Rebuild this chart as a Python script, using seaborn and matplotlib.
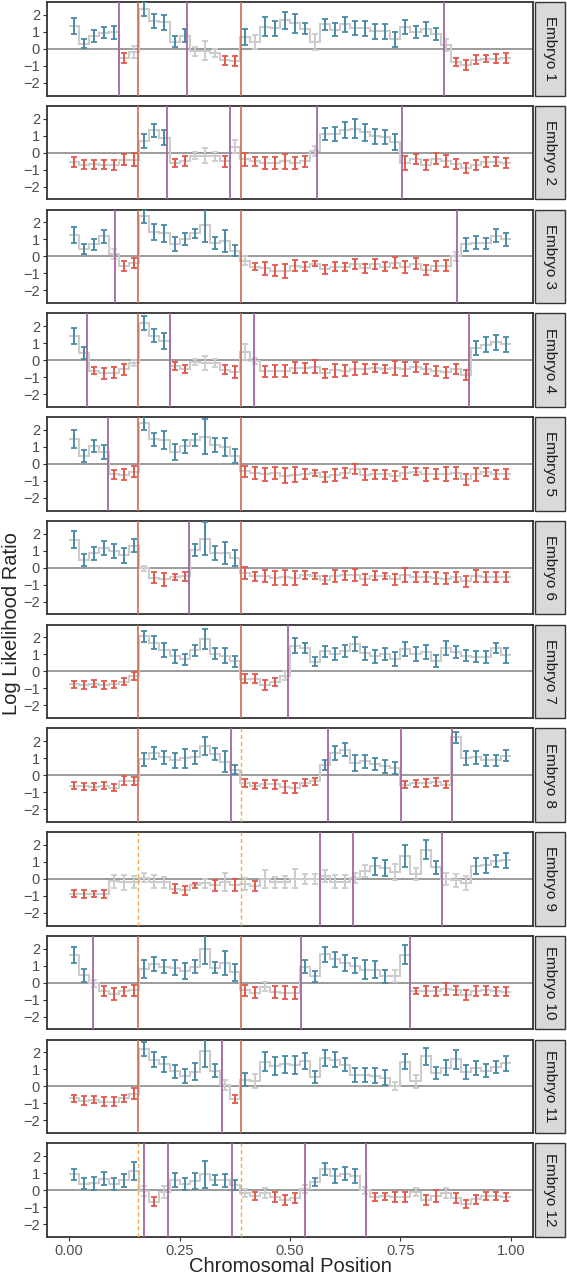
import numpy as np
import matplotlib
matplotlib.use("Agg")
import matplotlib.pyplot as plt
import seaborn as sns
from matplotlib.patches import Rectangle

# --- data: log likelihood ratio per bin (44 bins along the chromosome) ---
n_bins = 44

llr_1 = [1.35, 0.31, 0.76, 0.96, 0.98, -0.55, -0.2, 2.35, 1.65, 1.55,
         0.43, 0.78, -0.15, -0.1, -0.25, -0.68, -0.7, 0.68, 0.4, 1.3,
         1.2, 1.67, 1.5, 1.18, 0.4, 1.43, 1.12, 1.43, 1.23, 1.2,
         1.02, 1.02, 0.55, 1.3, 1.0, 1.17, 0.88, 0.2, -0.75, -0.95,
         -0.63, -0.57, -0.58, -0.53]
err_1 = [0.47, 0.27, 0.35, 0.35, 0.38, 0.3, 0.35, 0.4, 0.4, 0.45,
         0.35, 0.38, 0.25, 0.55, 0.25, 0.28, 0.28, 0.48, 0.4, 0.55,
         0.45, 0.5, 0.55, 0.33, 0.45, 0.35, 0.38, 0.43, 0.43, 0.43,
         0.42, 0.42, 0.43, 0.4, 0.37, 0.43, 0.35, 0.35, 0.23, 0.27,
         0.25, 0.22, 0.25, 0.3]
call_1 = "BBBBBRGBBB BBGGGRRBGB BBBBGBBBBB BBBBBBBGRR RRRR"

llr_2 = [-0.57, -0.7, -0.69, -0.7, -0.73, -0.42, -0.42, 0.7, 1.3, 0.88,
         -0.6, -0.5, -0.18, -0.18, -0.22, -0.5, 0.35, -0.4, -0.5, -0.62,
         -0.62, -0.52, -0.62, -0.52, 0.1, 1.1, 1.1, 1.3, 1.4, 1.2,
         0.95, 0.92, 0.65, -0.6, -0.37, -0.72, -0.35, -0.47, -0.67, -0.9,
         -0.72, -0.57, -0.53, -0.6]
err_2 = [0.3, 0.27, 0.27, 0.28, 0.27, 0.33, 0.38, 0.4, 0.4, 0.45,
         0.25, 0.3, 0.2, 0.45, 0.25, 0.32, 0.4, 0.36, 0.27, 0.35,
         0.35, 0.43, 0.35, 0.35, 0.3, 0.35, 0.43, 0.47, 0.55, 0.5,
         0.42, 0.43, 0.47, 0.4, 0.3, 0.3, 0.32, 0.35, 0.3, 0.3,
         0.3, 0.3, 0.27, 0.28]
call_2 = "RRRRRRRBBB RRGGGRGRRR RRRRGBBBBB BBBRRRRRRR RRRR"

llr_3 = [1.25, 0.44, 0.7, 1.17, 0.15, -0.56, -0.37, 2.35, 1.44, 1.37,
         0.73, 1.02, 1.35, 1.83, 0.8, 0.88, 0.33, -0.25, -0.6, -0.71,
         -0.83, -0.85, -0.54, -0.6, -0.42, -0.77, -0.6, -0.63, -0.46, -0.7,
         -0.46, -0.6, -0.37, -0.65, -0.44, -0.8, -0.56, -0.56, 0.0, 0.71,
         0.8, 0.77, 1.2, 1.0]
err_3 = [0.48, 0.3, 0.33, 0.4, 0.3, 0.3, 0.3, 0.38, 0.48, 0.5,
         0.43, 0.37, 0.28, 1.0, 0.35, 0.65, 0.33, 0.25, 0.22, 0.4,
         0.3, 0.42, 0.33, 0.27, 0.12, 0.25, 0.26, 0.25, 0.3, 0.26,
         0.3, 0.28, 0.32, 0.35, 0.32, 0.27, 0.3, 0.32, 0.25, 0.38,
         0.38, 0.33, 0.38, 0.38]
call_3 = "BBBBGRRBBB BBBBBBBGRR RRRRRRRRRR RRRRRRRRGB BBBB"

llr_4 = [1.42, 0.4, -0.63, -0.77, -0.73, -0.54, -0.15, 2.17, 1.44, 1.1,
         -0.35, -0.52, -0.13, -0.17, -0.15, -0.56, -0.71, 0.46, -0.05, -0.65,
         -0.62, -0.62, -0.44, -0.46, -0.4, -0.77, -0.6, -0.63, -0.5, -0.52,
         -0.44, -0.54, -0.48, -0.52, -0.4, -0.52, -0.62, -0.71, -0.52, -0.88,
         0.71, 0.9, 1.04, 0.92]
err_4 = [0.48, 0.36, 0.2, 0.33, 0.33, 0.33, 0.18, 0.4, 0.4, 0.47,
         0.24, 0.26, 0.18, 0.4, 0.24, 0.28, 0.36, 0.48, 0.2, 0.32,
         0.36, 0.36, 0.33, 0.32, 0.38, 0.27, 0.38, 0.33, 0.38, 0.32,
         0.24, 0.24, 0.4, 0.4, 0.28, 0.27, 0.3, 0.32, 0.32, 0.28,
         0.43, 0.43, 0.42, 0.42]
call_4 = "BBRRRRGBBB RRGGGRRGGR RRRRRRRRRR RRRRRRRRRR BBBB"

llr_5 = [1.46, 0.46, 1.06, 0.69, -0.62, -0.65, -0.46, 2.4, 1.44, 1.4,
         0.69, 1.02, 1.4, 1.6, 1.1, 1.0, 0.46, -0.44, -0.54, -0.62,
         -0.54, -0.69, -0.63, -0.58, -0.54, -0.77, -0.67, -0.56, -0.31, -0.65,
         -0.62, -0.62, -0.69, -0.54, -0.46, -0.6, -0.6, -0.62, -0.54, -0.9,
         -0.6, -0.48, -0.62, -0.58]
err_5 = [0.5, 0.35, 0.37, 0.41, 0.27, 0.32, 0.32, 0.43, 0.4, 0.5,
         0.48, 0.37, 0.37, 1.03, 0.43, 0.52, 0.43, 0.33, 0.33, 0.36,
         0.33, 0.42, 0.43, 0.3, 0.2, 0.27, 0.36, 0.29, 0.29, 0.32,
         0.27, 0.27, 0.29, 0.33, 0.22, 0.38, 0.29, 0.41, 0.33, 0.32,
         0.38, 0.22, 0.27, 0.3]
call_5 = "BBBBRRRBBB BBBBBBBRRR RRRRRRRRRR RRRRRRRRRR RRRR"

llr_6 = [1.65, 0.44, 0.83, 1.15, 0.96, 0.73, 1.29, -0.05, -0.58, -0.69,
         -0.56, -0.52, 1.02, 1.69, 0.87, 0.87, 0.56, -0.31, -0.52, -0.5,
         -0.6, -0.56, -0.62, -0.44, -0.48, -0.75, -0.5, -0.46, -0.44, -0.69,
         -0.48, -0.5, -0.69, -0.44, -0.54, -0.54, -0.6, -0.65, -0.54, -0.81,
         -0.5, -0.54, -0.54, -0.54]
err_6 = [0.48, 0.36, 0.36, 0.41, 0.41, 0.45, 0.4, 0.16, 0.31, 0.38,
         0.19, 0.29, 0.36, 0.96, 0.4, 0.64, 0.48, 0.34, 0.29, 0.34,
         0.43, 0.44, 0.41, 0.24, 0.17, 0.24, 0.34, 0.29, 0.36, 0.34,
         0.26, 0.19, 0.34, 0.4, 0.31, 0.31, 0.34, 0.34, 0.31, 0.32,
         0.34, 0.31, 0.31, 0.31]
call_6 = "BBBBBBBGRR RRBBBBBRRR RRRRRRRRRR RRRRRRRRRR RRRR"

llr_7 = [-0.77, -0.79, -0.73, -0.79, -0.75, -0.6, -0.27, 2.06, 1.67, 1.25,
         0.88, 0.71, 1.23, 1.92, 1.04, 0.92, 0.58, -0.42, -0.42, -0.79,
         -0.62, -0.25, 1.5, 1.37, 0.56, 1.17, 1.0, 1.21, 1.62, 1.06,
         0.9, 1.0, 0.73, 1.33, 1.02, 1.13, 0.62, 1.38, 1.12, 0.92,
         0.85, 0.83, 1.35, 0.96]
err_7 = [0.2, 0.22, 0.2, 0.22, 0.21, 0.22, 0.21, 0.32, 0.38, 0.42,
         0.37, 0.32, 0.32, 0.58, 0.32, 0.43, 0.33, 0.24, 0.24, 0.31,
         0.24, 0.25, 0.43, 0.31, 0.27, 0.31, 0.36, 0.34, 0.4, 0.38,
         0.38, 0.36, 0.43, 0.41, 0.43, 0.41, 0.36, 0.41, 0.34, 0.34,
         0.32, 0.34, 0.29, 0.44]
call_7 = "RRRRRRRBBB BBBBBBBRRR RGBBBBBBBB BBBBBBBBBB BBBB"

llr_8 = [-0.62, -0.65, -0.67, -0.62, -0.73, -0.33, -0.33, 0.92, 1.29, 1.04,
         0.87, 0.98, 1.04, 1.73, 1.25, 0.79, 0.33, -0.44, -0.65, -0.52,
         -0.54, -0.69, -0.73, -0.44, -0.37, 0.62, 1.29, 1.5, 0.71, 0.81,
         0.65, 0.52, 0.4, -0.56, -0.48, -0.48, -0.4, -0.56, 2.21, 0.98,
         1.04, 0.87, 0.87, 1.15]
err_8 = [0.21, 0.21, 0.19, 0.21, 0.19, 0.27, 0.24, 0.4, 0.35, 0.36,
         0.43, 0.55, 0.36, 0.53, 0.34, 0.6, 0.29, 0.23, 0.17, 0.21,
         0.25, 0.36, 0.29, 0.19, 0.22, 0.29, 0.42, 0.37, 0.48, 0.38,
         0.36, 0.38, 0.36, 0.22, 0.19, 0.24, 0.26, 0.22, 0.34, 0.41,
         0.36, 0.34, 0.34, 0.34]
call_8 = "RRRRRRRBBB BBBBBBBRRR RRRRRBBBBB BBBRRRRRBB BBBB"

llr_9 = [-0.87, -0.9, -0.87, -0.9, -0.15, -0.21, -0.17, 0.08, -0.17, -0.21,
         -0.58, -0.67, -0.38, -0.27, -0.38, -0.19, -0.38, -0.31, -0.42, 0.0,
         -0.21, -0.19, 0.02, 0.0, 0.0, 0.19, -0.17, -0.17, 0.05, 0.45,
         0.73, 0.62, 0.4, 1.33, 0.27, 1.71, 0.69, -0.02, -0.08, -0.25,
         0.77, 0.79, 1.06, 1.08]
err_9 = [0.21, 0.22, 0.17, 0.22, 0.4, 0.43, 0.34, 0.24, 0.38, 0.34,
         0.27, 0.26, 0.16, 0.29, 0.31, 0.55, 0.35, 0.34, 0.32, 0.55,
         0.34, 0.36, 0.58, 0.29, 0.29, 0.36, 0.38, 0.38, 0.3, 0.35,
         0.51, 0.46, 0.48, 0.63, 0.34, 0.57, 0.38, 0.34, 0.38, 0.4,
         0.46, 0.44, 0.37, 0.42]
call_9 = "RRRRGGGGGG RRRGRGRGRG GGGGGGGGGG BBGBGBBGGG BBBB"

llr_10 = [1.63, 0.42, -0.05, -0.5, -0.65, -0.52, -0.44, 0.79, 1.1, 0.94,
          0.88, 0.67, 0.94, 1.96, 0.88, 1.15, 0.6, -0.44, -0.58, -0.23,
          -0.54, -0.58, -0.62, 0.92, 0.38, 1.67, 1.37, 1.15, 1.0, 0.75,
          0.77, 0.38, 0.4, 1.65, -0.48, -0.5, -0.52, -0.37, -0.44, -0.73,
          -0.5, -0.44, -0.52, -0.54]
err_10 = [0.48, 0.36, 0.21, 0.31, 0.34, 0.29, 0.32, 0.53, 0.4, 0.4,
          0.43, 0.48, 0.4, 0.85, 0.34, 0.7, 0.48, 0.32, 0.32, 0.29,
          0.36, 0.38, 0.34, 0.38, 0.32, 0.45, 0.43, 0.45, 0.46, 0.56,
          0.51, 0.38, 0.34, 0.58, 0.17, 0.31, 0.25, 0.34, 0.26, 0.31,
          0.31, 0.26, 0.25, 0.27]
call_10 = "BBGRRRRBBB BBBBBBBRRG RRRBBBBBBB BBGBRRRRRR RRRR"

llr_11 = [-0.71, -0.83, -0.77, -0.9, -0.9, -0.69, -0.44, 2.21, 1.56, 1.29,
          0.88, 0.62, 0.87, 2.1, 0.92, 0.06, -0.75, 0.38, 0.33, 1.46,
          1.19, 1.29, 1.27, 1.5, 0.54, 1.67, 1.56, 1.27, 0.67, 0.67,
          0.63, 0.52, 0.02, 1.46, 0.3, 1.77, 0.79, 1.1, 1.58, 0.87,
          1.06, 0.92, 1.12, 1.35]
err_11 = [0.19, 0.26, 0.22, 0.25, 0.25, 0.21, 0.32, 0.41, 0.43, 0.45,
          0.38, 0.41, 0.48, 0.95, 0.38, 0.29, 0.24, 0.38, 0.41, 0.53,
          0.55, 0.51, 0.53, 0.48, 0.35, 0.45, 0.43, 0.38, 0.41, 0.41,
          0.44, 0.45, 0.24, 0.43, 0.38, 0.5, 0.34, 0.45, 0.55, 0.41,
          0.41, 0.38, 0.35, 0.45]
call_11 = "RRRRRRRBBB BBBBBGRBGB BBBBBBBBBB BBGBGBBBBB BBBB"

llr_12 = [0.92, 0.37, 0.4, 0.67, 0.38, 0.58, 1.13, -0.05, -0.67, -0.1,
          0.58, 0.38, 0.52, 0.92, 0.58, 0.58, 0.29, -0.15, -0.33, -0.19,
          -0.38, -0.58, -0.46, 0.05, 0.48, 1.23, 0.83, 0.96, 0.83, 0.0,
          -0.4, -0.37, -0.4, -0.4, -0.13, -0.58, -0.33, -0.19, -0.46, -0.81,
          -0.54, -0.33, -0.35, -0.4]
err_12 = [0.34, 0.32, 0.37, 0.38, 0.35, 0.38, 0.51, 0.29, 0.29, 0.34,
          0.42, 0.35, 0.48, 0.77, 0.29, 0.38, 0.29, 0.24, 0.24, 0.29,
          0.29, 0.29, 0.31, 0.24, 0.25, 0.36, 0.43, 0.38, 0.43, 0.2,
          0.26, 0.21, 0.32, 0.32, 0.24, 0.29, 0.34, 0.29, 0.27, 0.24,
          0.26, 0.24, 0.22, 0.26]
call_12 = "BBBBBBBGRG BBBBBBBGRG RRRGBBBBBG RRRRGRRGRR RRRR"

# inferred breakpoints (purple)
breaks_1 = [0.114, 0.268, 0.849]
breaks_2 = [0.2215, 0.364, 0.562, 0.754]
breaks_3 = [0.1035, 0.878]
breaks_4 = [0.040, 0.229, 0.419, 0.906]
breaks_5 = [0.0876]
breaks_6 = [0.272]
breaks_7 = [0.495]
breaks_8 = [0.3665, 0.5865, 0.751, 0.867]
breaks_9 = [0.569, 0.642, 0.845]
breaks_10 = [0.053, 0.525, 0.771]
breaks_11 = [0.345]
breaks_12 = [0.1685, 0.2245, 0.369, 0.533, 0.673]

# reference boundaries and whether each embryo shows them
ref_pos = [0.1565, 0.39]
ref_found = [[True, True], [True, True], [True, True], [True, True],
             [True, True], [True, True], [True, True], [True, False],
             [False, False], [True, True], [True, True], [False, False]]

embryo_names = ["Embryo %d" % i for i in range(1, 13)]
llrs = [llr_1, llr_2, llr_3, llr_4, llr_5, llr_6, llr_7, llr_8, llr_9, llr_10, llr_11, llr_12]
errs = [err_1, err_2, err_3, err_4, err_5, err_6, err_7, err_8, err_9, err_10, err_11, err_12]
calls = [call_1, call_2, call_3, call_4, call_5, call_6, call_7, call_8, call_9, call_10, call_11, call_12]
breaks = [breaks_1, breaks_2, breaks_3, breaks_4, breaks_5, breaks_6,
          breaks_7, breaks_8, breaks_9, breaks_10, breaks_11, breaks_12]

# --- style ---
sns.set_theme(style="white")
plt.rcParams['font.family'] = ['Liberation Sans', 'DejaVu Sans']

call_colors = {'B': '#4a8aa5', 'R': '#e4574a', 'G': '#cccccc'}
step_color = '#cccccc'
purple = '#a4679f'
ref_solid = '#c96c52'
ref_dash = '#f0aa50'
frame = '#333333'

edges = np.linspace(0, 1, n_bins + 1)
centers = (edges[:-1] + edges[1:]) / 2

fig, axes = plt.subplots(12, 1, figsize=(5.67, 12.8), dpi=100, sharex=True)
fig.subplots_adjust(left=47 / 567, right=533 / 567, top=1 - 2 / 1280,
                    bottom=1 - 1237 / 1280, hspace=0.107)

for k, ax in enumerate(axes):
    vals = np.array(llrs[k])
    err = np.array(errs[k])
    call = np.array(list(calls[k].replace(" ", "")))

    ax.axhline(0, color='#808080', lw=1.1, zorder=1)
    ax.stairs(vals, edges, baseline=None, color=step_color, lw=1.5, zorder=2)
    for c in ['G', 'B', 'R']:
        m = call == c
        ax.errorbar(centers[m], vals[m], yerr=err[m], fmt='none',
                    ecolor=call_colors[c], elinewidth=1.4, capsize=2.2,
                    capthick=1.3, zorder=3)

    for pos, found in zip(ref_pos, ref_found[k]):
        if found:
            ax.axvline(pos, color=ref_solid, lw=1.2, zorder=4)
        else:
            ax.axvline(pos, color=ref_dash, lw=1.0, ls=(0, (3, 2)), zorder=4)
    for b in breaks[k]:
        ax.axvline(b, color=purple, lw=1.3, zorder=4)

    ax.set_xlim(-0.05, 1.05)
    ax.set_ylim(-2.75, 2.75)
    ax.set_yticks([-2, -1, 0, 1, 2])
    ax.set_yticklabels(['\u22122', '\u22121', '0', '1', '2'])
    ax.tick_params(axis='both', which='both', direction='out', length=3,
                   width=0.8, color=frame, labelsize=10.5, labelcolor='#4d4d4d',
                   left=True, bottom=(k == 11), pad=2)
    for sp in ax.spines.values():
        sp.set_color(frame)
        sp.set_linewidth(1.3)

    # facet strip on the right
    ax.add_patch(Rectangle((1.004, 0), 0.062, 1, transform=ax.transAxes,
                           facecolor='#d9d9d9', edgecolor=frame, lw=1.0,
                           clip_on=False))
    ax.text(1.035, 0.5, embryo_names[k], transform=ax.transAxes, rotation=270,
            ha='center', va='center', fontsize=11, color='#1a1a1a')

axes[-1].set_xticks([0.0, 0.25, 0.5, 0.75, 1.0])
axes[-1].set_xticklabels(['0.00', '0.25', '0.50', '0.75', '1.00'])
fig.text(0.5 * (47 + 533) / 567, 1 - 1266 / 1280, 'Chromosomal Position',
         ha='center', va='center', fontsize=14.5)
fig.text(12 / 567, 1 - 624 / 1280, 'Log Likelihood Ratio', rotation=90,
         ha='center', va='center', fontsize=14.5)

fig.savefig('out.png', dpi=100)
